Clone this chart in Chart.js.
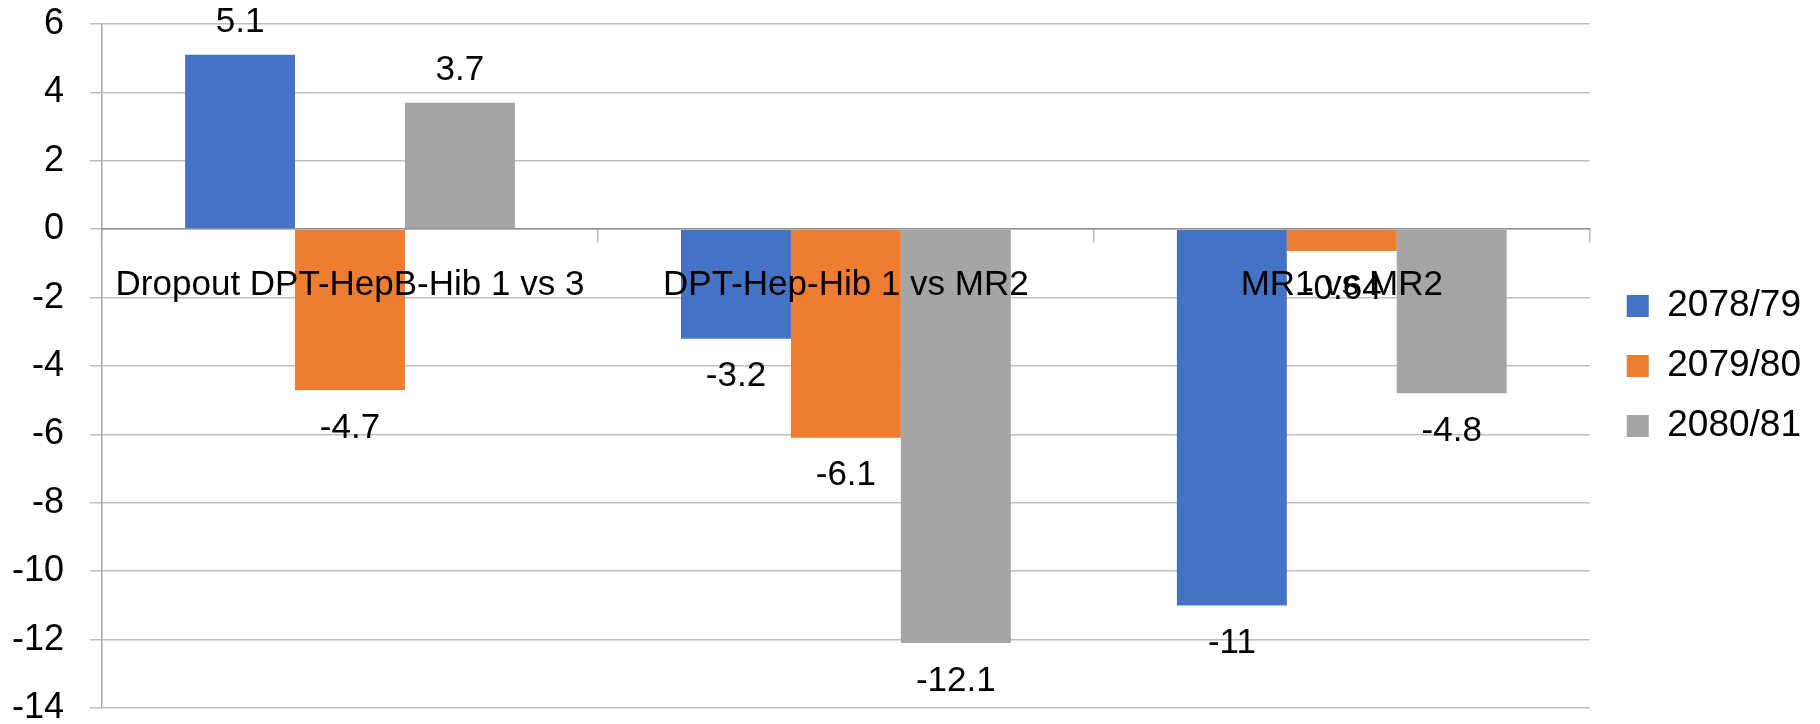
<!DOCTYPE html>
<html>
<head>
<meta charset="utf-8">
<script src="https://cdn.jsdelivr.net/npm/chart.js@4/dist/chart.umd.min.js"></script>
<style>
  html, body { margin: 0; padding: 0; background: #ffffff; }
  #wrap { width: 1820px; height: 724px; position: relative; }
</style>
</head>
<body>
<div id="wrap"><canvas id="c" width="1820" height="724"></canvas></div>
<script>
// ---- Data ----
const categories = ['Dropout DPT-HepB-Hib 1 vs 3', 'DPT-Hep-Hib 1 vs MR2', 'MR1 vs MR2'];
const seriesNames = ['2078/79', '2079/80', '2080/81'];
const values2078 = [5.1, -3.2, -11];
const values2079 = [-4.7, -6.1, -0.64];
const values2080 = [3.7, -12.1, -4.8];
const yMin = -14;
const yMax = 6;
const yStep = 2;

// ---- Styles ----
const colors = ['#4472C4', '#ED7D31', '#A5A5A5'];
const FONT = '"Liberation Sans", Arial, sans-serif';

const valueLabels = {
  id: 'valueLabels',
  afterDatasetsDraw(chart) {
    const ctx = chart.ctx;
    ctx.save();
    ctx.font = '35px ' + FONT;
    ctx.fillStyle = '#000000';
    ctx.textAlign = 'center';
    ctx.textBaseline = 'middle';
    chart.data.datasets.forEach((ds, i) => {
      const meta = chart.getDatasetMeta(i);
      meta.data.forEach((el, j) => {
        const v = ds.data[j];
        const y = v >= 0 ? el.y - 32 : el.y + 38;
        ctx.fillText(String(v), el.x, y);
      });
    });
    ctx.restore();
  }
};

new Chart(document.getElementById('c'), {
  type: 'bar',
  data: {
    labels: categories,
    datasets: [
      { label: seriesNames[0], data: values2078, backgroundColor: colors[0] },
      { label: seriesNames[1], data: values2079, backgroundColor: colors[1] },
      { label: seriesNames[2], data: values2080, backgroundColor: colors[2] }
    ]
  },
  options: {
    responsive: false,
    animation: false,
    devicePixelRatio: 1,
    categoryPercentage: 0.665,
    barPercentage: 1.0,
    layout: { padding: { left: 12, right: 9, top: 24, bottom: 16 } },
    plugins: {
      legend: {
        position: 'right',
        labels: {
          font: { family: FONT, size: 37 },
          color: '#000000',
          boxWidth: 22,
          boxHeight: 22,
          padding: 23
        }
      },
      tooltip: { enabled: false }
    },
    scales: {
      x: {
        type: 'category',
        position: { y: 0 },
        afterFit(s) { s.height = 0; },
        grid: {
          offset: true,
          drawOnChartArea: false,
          drawTicks: true,
          tickLength: 13,
          color: '#BFBFBF',
          lineWidth: 1.5
        },
        border: { display: true, color: '#8F8F8F', width: 1.5, z: 1 },
        ticks: {
          z: 1,
          autoSkip: false,
          maxRotation: 0,
          minRotation: 0,
          padding: 22,
          color: '#000000',
          font: { family: FONT, size: 35 }
        }
      },
      y: {
        type: 'linear',
        position: 'left',
        min: yMin,
        max: yMax,
        ticks: {
          stepSize: yStep,
          padding: 0,
          color: '#000000',
          font: { family: FONT, size: 36, lineHeight: 0.85 }
        },
        grid: {
          color: '#BFBFBF',
          lineWidth: 1.5,
          tickLength: 38,
          tickBorderDash: [0, 26, 12, 200],
          drawTicks: true
        },
        border: { display: true, color: '#A6A6A6', width: 1.5 }
      },
      pad: {
        type: 'linear',
        axis: 'y',
        position: 'right',
        display: true,
        grid: { display: false, drawTicks: false },
        border: { display: false },
        ticks: { display: false },
        afterFit(s) { s.width = 14; }
      }
    }
  },
  plugins: [valueLabels]
});
</script>
</body>
</html>
